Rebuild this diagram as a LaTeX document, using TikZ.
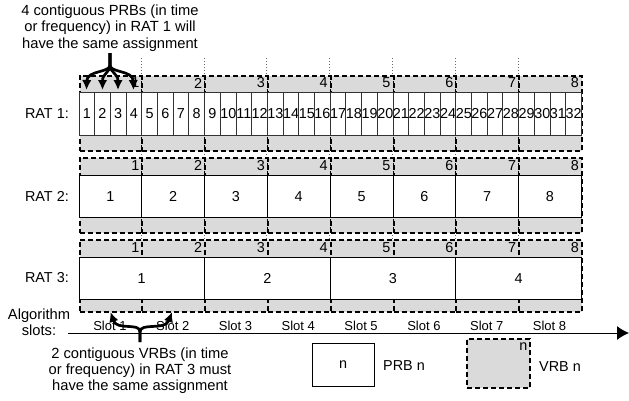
\documentclass[tikz,border=0pt]{standalone}
\usepackage{fontspec}
\setmainfont{Liberation Sans}
\usetikzlibrary{arrows.meta}
\definecolor{vrbgray}{RGB}{218,218,218}
\begin{document}
\begin{tikzpicture}[x=1pt,y=-1pt,
  vrbbox/.style={draw=black, fill=vrbgray, dash pattern=on 5pt off 3pt, line width=2.1pt, inner sep=0pt, anchor=north west},
  prbbox/.style={draw=black!80, fill=white, line width=0.9pt, inner sep=0pt, anchor=north west, font=\fontsize{14.4}{17}\selectfont},
  vrbnum/.style={anchor=east, inner sep=0pt, font=\fontsize{14.4}{17}\selectfont},
  ratlabel/.style={anchor=east, inner sep=0pt, font=\fontsize{14.4}{17}\selectfont},
  slotlabel/.style={inner sep=0pt, font=\fontsize{13}{15}\selectfont},
  note/.style={align=center, inner sep=0pt, font=\fontsize{14.7}{16.2}\selectfont},
  gridline/.style={draw=black!60, dotted, line width=1pt},
  fan/.style={draw=black, line width=2.7pt, -{Latex[length=10pt,width=9.5pt]}},
  axis/.style={draw=black, line width=1pt, -{Latex[length=12pt,width=14pt]}}
]
\useasboundingbox (0,0) rectangle (629,400);

% dotted slot divider lines
\foreach \i in {1,...,7} {
  \pgfmathsetmacro\xx{78.5+\i*62.8}
  \coordinate (gt\i) at (\xx,58);
  \coordinate (gb\i) at (\xx,311);
  \draw[gridline] (gt\i) -- (gb\i);
}

% VRB boxes and numbers
\foreach \r/\T/\P/\B in {1/75/92/150, 2/157/175/232, 3/239/257/311} {
  \foreach \i in {1,...,8} {
    \pgfmathsetmacro\xl{78.5+(\i-1)*62.8}
    \pgfmathsetmacro\xr{78.5+\i*62.8-1.8}
    \pgfmathsetmacro\hh{\B-\T}
    \pgfmathsetmacro\ym{(\T+\P)/2-0.5}
    \node[vrbbox, minimum width=62.8pt, minimum height=\hh pt] (v\r-\i) at (\xl,\T) {};
    \node[vrbnum] (vn\r-\i) at (\xr,\ym) {\i};
  }
}

% PRBs RAT 1
\foreach \i in {1,...,32} {
  \pgfmathsetmacro\xl{78.5+(\i-1)*15.7}
  \node[prbbox, minimum width=15.7pt, minimum height=43pt] (p1-\i) at (\xl,92) {\i};
}
% PRBs RAT 2
\foreach \i in {1,...,8} {
  \pgfmathsetmacro\xl{78.5+(\i-1)*62.8}
  \node[prbbox, draw=black, minimum width=62.8pt, minimum height=42pt] (p2-\i) at (\xl,175) {\i};
}
% PRBs RAT 3
\foreach \i in {1,...,4} {
  \pgfmathsetmacro\xl{78.5+(\i-1)*125.6}
  \node[prbbox, draw=black, minimum width=125.6pt, minimum height=42pt] (p3-\i) at (\xl,257) {\i};
}

% RAT labels
\node[ratlabel] (r1) at (69,113.5) {RAT 1:};
\node[ratlabel] (r2) at (69,196) {RAT 2:};
\node[ratlabel] (r3) at (69,278) {RAT 3:};

% algorithm slots axis
\node[note] (alg) at (39,322) {Algorithm\\slots:};
\coordinate (axs) at (68,333);
\coordinate (axe) at (629,333);
\draw[axis] (axs) -- (axe);
\foreach \i in {1,...,8} {
  \pgfmathsetmacro\xc{78.5+(\i-0.5)*62.8}
  \node[slotlabel] (s\i) at (\xc,326) {Slot \i};
}

% top annotation
\node[note] (topnote) at (110,28) {4 contiguous PRBs (in time\\or frequency) in RAT 1 will\\have the same assignment};
\coordinate (fs) at (110,53);
\coordinate (fm) at (110,65);
\coordinate (t1) at (86.5,90);
\coordinate (t2) at (102.5,90);
\coordinate (t3) at (118,90);
\coordinate (t4) at (133.5,90);
\draw[fan] (fs) -- (fm) .. controls (110,73) and (87,70) .. (t1);
\draw[fan] (fs) -- (fm) .. controls (110,73) and (102.5,73) .. (t2);
\draw[fan] (fs) -- (fm) .. controls (110,73) and (118,73) .. (t3);
\draw[fan] (fs) -- (fm) .. controls (110,73) and (133,70) .. (t4);

% bottom annotation
\node[note] (botnote) at (140,370.5) {2 contiguous VRBs (in time\\or frequency) in RAT 3 must\\have the same assignment};
\coordinate (bs) at (140,342);
\coordinate (bm) at (140,332);
\coordinate (b1) at (110.5,312);
\coordinate (b2) at (172,312);
\draw[fan] (bs) -- (bm) .. controls (140,322) and (117,331) .. (b1);
\draw[fan] (bs) -- (bm) .. controls (140,322) and (165,331) .. (b2);

% legend
\node[prbbox, draw=black, anchor=center, minimum width=62pt, minimum height=43pt] (lprb) at (343,364.5) {n};
\node[ratlabel, anchor=west] (lprbt) at (383,366) {PRB n};
\node[vrbbox, anchor=center, minimum width=63pt, minimum height=49pt] (lvrb) at (498.5,363.5) {};
\node[vrbnum] (lvrbn) at (527.5,347) {n};
\node[ratlabel, anchor=west] (lvrbt) at (539,367) {VRB n};
\end{tikzpicture}
\end{document}
